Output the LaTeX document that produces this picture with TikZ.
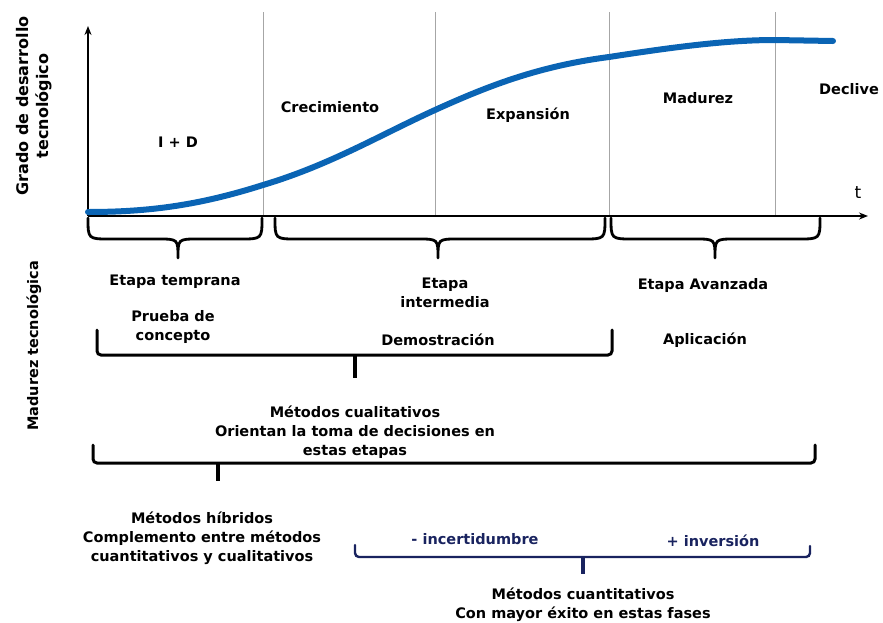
\documentclass[tikz,border=0pt]{standalone}
\usepackage{fontspec}
\setmainfont{DejaVu Sans}
\usetikzlibrary{arrows.meta}
\definecolor{curveblue}{RGB}{10,100,180}
\definecolor{navy}{RGB}{25,35,95}
\tikzset{
  lbl/.style={font=\bfseries\fontsize{14.5}{19}\selectfont, align=center, inner sep=0pt},
  navylbl/.style={lbl, text=navy},
  axis/.style={line width=1.6pt, -{Stealth[length=9pt,width=7pt]}},
  phase/.style={gray!70, line width=0.8pt},
  brace/.style={line width=2.8pt, line join=round, line cap=round},
  bracket/.style={line width=3pt, rounded corners=4pt, line cap=round},
  tick/.style={line width=4pt},
}
% curly brace pointing down: #1 left x, #2 centre x, #3 right x
\newcommand{\downbrace}[3]{%
  \draw[brace] (#1,218) .. controls (#1,239) .. (#1+22,239) -- (#2-20,239)
    .. controls (#2,239) .. (#2,258) .. controls (#2,239) .. (#2+20,239)
    -- (#3-22,239) .. controls (#3,239) .. (#3,218);}
\begin{document}
\begin{tikzpicture}[x=1pt,y=-1pt]
\useasboundingbox (0,0) rectangle (883,622);

% phase boundaries
\foreach \x in {263,435,609,775}
  \draw[phase] (\x,12) -- (\x,216);

% axes
\coordinate (O) at (88,216);
\coordinate (ytop) at (88,26);
\coordinate (xend) at (868,216);
\draw[axis] (O) -- (ytop);
\draw[axis] (O) -- (xend);
\node[font=\fontsize{17}{17}\selectfont] (t) at (858,193) {t};

% technology S-curve
\draw[curveblue, line width=6pt, line cap=round]
  (88,212) .. controls (150,212) and (200,205) .. (263,185)
  .. controls (330,165) and (380,135) .. (435,110)
  .. controls (490,85) and (540,66) .. (609,57)
  .. controls (680,46) and (730,40) .. (775,40)
  -- (833,41);

% phase names
\node[lbl] (id) at (178,142) {I + D};
\node[lbl] (crec) at (330,107) {Crecimiento};
\node[lbl] (exp) at (528,115) {Expansión};
\node[lbl] (mad) at (698,98) {Madurez};
\node[lbl, anchor=west] (dec) at (819,89) {Declive};

% axis titles
\node[lbl, rotate=90, font=\bfseries\fontsize{16}{20}\selectfont] (ytitle) at (34,106)
  {Grado de desarrollo\\tecnológico};
\node[lbl, rotate=90, font=\bfseries\fontsize{14.5}{17}\selectfont] (mtitle) at (34,346)
  {Madurez tecnológica};

% stage braces
\downbrace{88}{178}{262}
\downbrace{275}{438}{605}
\downbrace{611}{715}{820}

\node[lbl] (temp) at (175,282) {Etapa temprana};
\node[lbl] (inter) at (445,293) {Etapa\\intermedia};
\node[lbl] (avan) at (703,285) {Etapa Avanzada};

\node[lbl] (prueba) at (173,327) {Prueba de\\concepto};
\node[lbl] (demo) at (438,340) {Demostración};
\node[lbl] (apli) at (705,340) {Aplicación};

% qualitative methods bracket
\coordinate (q1) at (97,330);
\coordinate (q2) at (612,330);
\draw[bracket] (q1) |- (355,355) -| (q2);
\draw[tick] (355,355) -- (355,378);
\node[lbl] (cual) at (355,432)
  {Métodos cualitativos\\Orientan la toma de decisiones en\\estas etapas};

% hybrid methods bracket
\coordinate (h1) at (93,445);
\coordinate (h2) at (815,445);
\draw[bracket] (h1) |- (218,463) -| (h2);
\draw[tick] (218,463) -- (218,481);
\node[lbl] (hib) at (202,538)
  {Métodos híbridos\\Complemento entre métodos\\cuantitativos y cualitativos};

% quantitative methods bracket
\node[navylbl] (inc) at (475,539) {- incertidumbre};
\node[navylbl] (inv) at (713,541) {+ inversión};
\coordinate (c1) at (355,545);
\coordinate (c2) at (810,546);
\draw[bracket, navy, line width=2.4pt] (c1) |- (583,557) -| (c2);
\draw[tick, navy, line width=3.5pt] (583,557) -- (583,574);
\node[lbl] (cuan) at (583,605)
  {Métodos cuantitativos\\Con mayor éxito en estas fases};
\end{tikzpicture}
\end{document}
